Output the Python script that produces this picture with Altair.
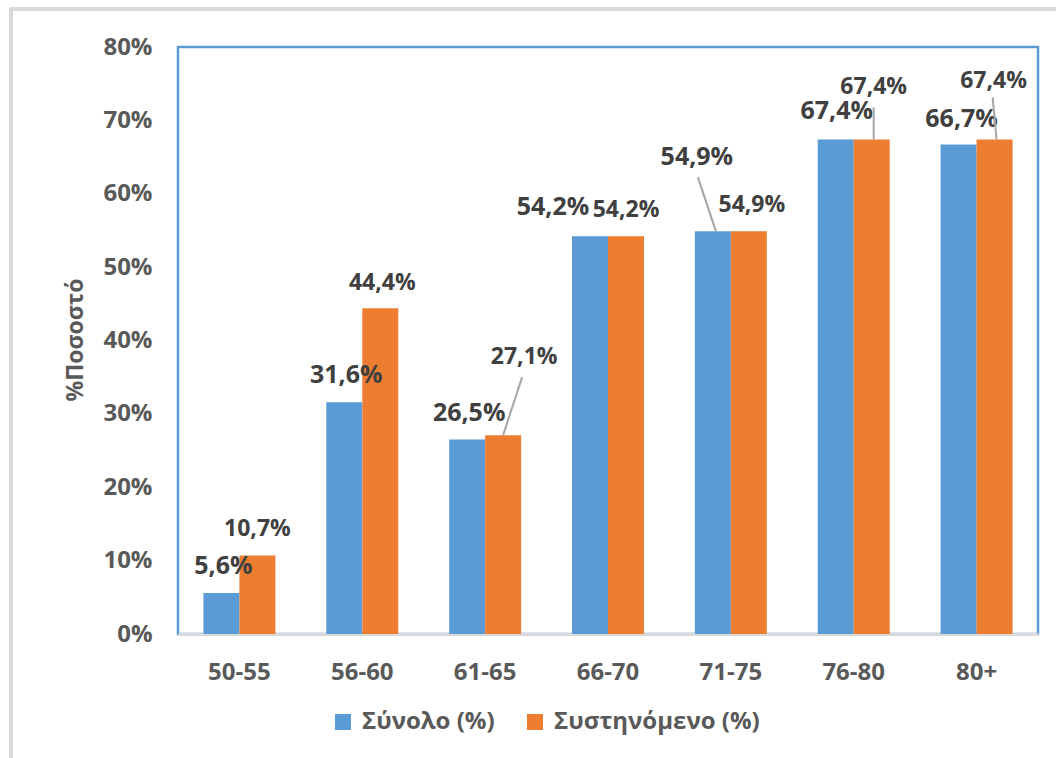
import altair as alt
import pandas as pd

categories = ["50-55", "56-60", "61-65", "66-70", "71-75", "76-80", "80+"]
series = ["Σύνολο (%)", "Συστηνόμενο (%)"]
total = [5.6, 31.6, 26.5, 54.2, 54.9, 67.4, 66.7]
recommended = [10.7, 44.4, 27.1, 54.2, 54.9, 67.4, 67.4]
y_ticks = [0, 10, 20, 30, 40, 50, 60, 70, 80]
colors = ["#5B9BD5", "#ED7D31"]

# data-label pixel offsets relative to bar top centre (Excel-style placement)
total_dx = [2, 2, 2, -37, -16, 1, 3]
total_dy = [-27, -27, -27, -29, -74, -28, -26]
rec_dx = [0, 2, 21, 0, 3, 2, -1]
rec_dy = [-26, -25, -78, -26, -26, -52, -58]

# leader lines (category, series index, start dx, start dy, end dx, end dy) in px
leader_cat = ["61-65", "71-75", "76-80", "80+"]
leader_ser = [1, 0, 1, 1]
leader_x0 = [0, 3, 2, 2]
leader_y0 = [0, 0, 0, 0]
leader_x1 = [19, -15, 2, -2]
leader_y1 = [-58, -54, -32, -42]

W, H = 860, 587
PAD_IN = 0.414
FONT = "Open Sans"
TXT = "#404040"
AX = "#595959"

rows = []
for i, c in enumerate(categories):
    rows.append({"category": c, "series": series[0], "value": total[i]})
    rows.append({"category": c, "series": series[1], "value": recommended[i]})
df = pd.DataFrame(rows)
df["label"] = df["value"].map(lambda v: f"{v:.1f}".replace(".", ",") + "%")

x_enc = alt.X("category:N", sort=categories,
              scale=alt.Scale(domain=categories, paddingInner=PAD_IN, paddingOuter=PAD_IN / 2),
              axis=alt.Axis(title=None, labelFont=FONT, labelFontSize=24, labelFontWeight="bold",
                            labelColor=AX, labelAngle=0, ticks=False, tickSize=0, labelPadding=38,
                            labelBaseline="middle", domainColor="#D9D9D9", domainWidth=3, grid=False))
xo_enc = alt.XOffset("series:N", sort=series,
                     scale=alt.Scale(domain=series, paddingInner=0, paddingOuter=0))
y_axis = alt.Axis(values=y_ticks, labelExpr="datum.value + '%'", title="%Ποσοστό",
                  titleFont=FONT, titleFontSize=23, titleFontWeight="bold", titleColor=AX,
                  titleAngle=270, titleX=-103, titleY=H / 2 - 1, titleAlign="center",
                  titleBaseline="middle",
                  labelFont=FONT, labelFontSize=24, labelFontWeight="bold", labelColor=AX,
                  labelPadding=26, ticks=False, domain=False, grid=False)
y_enc = alt.Y("value:Q", scale=alt.Scale(domain=[0, 80], nice=False), axis=y_axis)

bars = alt.Chart(df).mark_bar().encode(
    x=x_enc, xOffset=xo_enc, y=y_enc,
    color=alt.Color("series:N", sort=series, scale=alt.Scale(domain=series, range=colors),
                    legend=alt.Legend(title=None, orient="none", legendX=153, legendY=663,
                                      direction="horizontal", symbolType="square", symbolSize=256,
                                      symbolStrokeWidth=0, labelFont=FONT, labelFontSize=24,
                                      labelFontWeight="bold", labelColor=AX, columnPadding=28,
                                      labelOffset=7, labelLimit=500)),
)

texts = []
for s_idx, (dxs, dys, fs) in enumerate([(total_dx, total_dy, 25), (rec_dx, rec_dy, 23)]):
    for i, c in enumerate(categories):
        t = alt.Chart(df).transform_filter(
            (alt.datum.category == c) & (alt.datum.series == series[s_idx])
        ).mark_text(dx=dxs[i], dy=dys[i], font=FONT, fontSize=fs, fontWeight="bold",
                    color=TXT, align="center", baseline="middle").encode(
            x=x_enc, xOffset=xo_enc, y=y_enc, text="label:N")
        texts.append(t)

inner = alt.layer(bars, *texts)

# leader lines in category units
step = W / len(categories)
half = (1 - PAD_IN) / 4
lrows = []
for k, c in enumerate(leader_cat):
    i = categories.index(c)
    v = (total if leader_ser[k] == 0 else recommended)[i]
    xc = i + 0.5 + (-half if leader_ser[k] == 0 else half)
    lrows.append({
        "x0": xc + leader_x0[k] / step, "x1": xc + leader_x1[k] / step,
        "value": v - leader_y0[k] * 80 / H, "y1": v - leader_y1[k] * 80 / H,
    })
ldf = pd.DataFrame(lrows)
leaders = alt.Chart(ldf).mark_rule(color="#A6A6A6", strokeWidth=2).encode(
    x=alt.X("x0:Q", scale=alt.Scale(domain=[0, len(categories)], nice=False, zero=False), axis=None),
    x2="x1:Q", y=y_enc, y2="y1:Q")

frame_left = alt.Chart(df).mark_rule(color="#D9D9D9", strokeWidth=3).encode(
    x=alt.value(-167), y=alt.value(-39), y2=alt.value(720))
frame_top = alt.Chart(df).mark_rule(color="#D9D9D9", strokeWidth=3).encode(
    x=alt.value(-168), x2=alt.value(900), y=alt.value(-38))

chart = alt.layer(inner, leaders, frame_left, frame_top).resolve_scale(x="independent").properties(
    width=W, height=H,
    autosize=alt.AutoSizeParams(type="none"),
    padding={"left": 178, "top": 47, "right": 18, "bottom": 124},
    view=alt.ViewBackground(stroke="#5B9BD5", strokeWidth=2.5, fill="white"),
).configure_view(stroke="#5B9BD5", strokeWidth=2.5).configure(background="white")

chart.save("out.html", embed_options={"renderer": "svg", "actions": False})
